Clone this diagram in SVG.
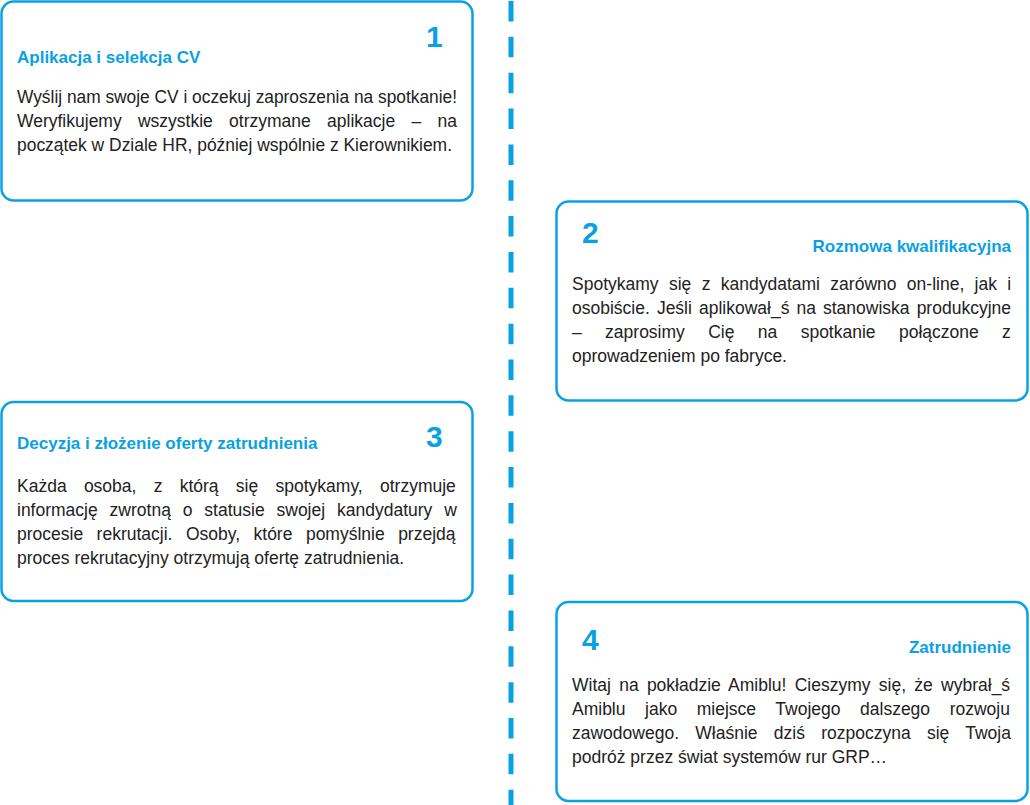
<svg xmlns="http://www.w3.org/2000/svg" width="1030" height="805" viewBox="0 0 1030 805">
<style>
.box{fill:#fff;stroke:#0aa1e2;stroke-width:2.5}
.num{font-family:"Liberation Sans",Arial,sans-serif;font-weight:bold;font-size:30px;fill:#0aa1e2}
.title{font-family:"Liberation Sans",Arial,sans-serif;font-weight:bold;font-size:17px;fill:#0aa1e2}
.body{font-family:"Liberation Sans",Arial,sans-serif;font-size:17.5px;fill:#222}
.end{text-anchor:end}
</style>
<rect width="1030" height="805" fill="#fff"/>
<g id="connectors">
<line x1="511" y1="1" x2="511" y2="805" stroke="#0aa1e2" stroke-width="5" stroke-dasharray="20.5 15.35"/>
</g>
<g id="step1">
<rect class="box" x="1.5" y="1.5" width="471" height="199" rx="12"/>
<text class="num" x="426" y="47">1</text>
<text class="title" x="17" y="63">Aplikacja i selekcja CV</text>
<text class="body" x="17" y="103" textLength="440" lengthAdjust="spacingAndGlyphs">Wyślij nam swoje CV i oczekuj zaproszenia na spotkanie!</text>
<text class="body" x="17" y="127" word-spacing="11.4">Weryfikujemy wszystkie otrzymane aplikacje – na</text>
<text class="body" x="17" y="151" textLength="435" lengthAdjust="spacingAndGlyphs">początek w Dziale HR, później wspólnie z Kierownikiem.</text>
</g>
<g id="step2">
<rect class="box" x="556.5" y="201.5" width="471" height="199" rx="12"/>
<text class="num" x="582" y="243">2</text>
<text class="title end" x="1011" y="252">Rozmowa kwalifikacyjna</text>
<text class="body" x="572" y="290" word-spacing="5.5">Spotykamy się z kandydatami zarówno on-line, jak i</text>
<text class="body" x="572" y="314" word-spacing="2.2">osobiście. Jeśli aplikował_ś na stanowiska produkcyjne</text>
<text class="body" x="572" y="338" word-spacing="18.5">– zaprosimy Cię na spotkanie połączone z</text>
<text class="body" x="572" y="362">oprowadzeniem po fabryce.</text>
</g>
<g id="step3">
<rect class="box" x="1.5" y="402" width="471" height="199" rx="12"/>
<text class="num" x="426" y="447">3</text>
<text class="title" x="17" y="449">Decyzja i złożenie oferty zatrudnienia</text>
<text class="body" x="17" y="492" word-spacing="12.4">Każda osoba, z którą się spotykamy, otrzymuje</text>
<text class="body" x="17" y="516" word-spacing="7">informację zwrotną o statusie swojej kandydatury w</text>
<text class="body" x="17" y="540" word-spacing="8.6">procesie rekrutacji. Osoby, które pomyślnie przejdą</text>
<text class="body" x="17" y="564">proces rekrutacyjny otrzymują ofertę zatrudnienia.</text>
</g>
<g id="step4">
<rect class="box" x="556.5" y="602" width="471" height="199" rx="12"/>
<text class="num" x="582" y="650">4</text>
<text class="title end" x="1011" y="653">Zatrudnienie</text>
<text class="body" x="572" y="691" word-spacing="3.4">Witaj na pokładzie Amiblu! Cieszymy się, że wybrał_ś</text>
<text class="body" x="572" y="715" word-spacing="14.7">Amiblu jako miejsce Twojego dalszego rozwoju</text>
<text class="body" x="572" y="739" word-spacing="11.4">zawodowego. Właśnie dziś rozpoczyna się Twoja</text>
<text class="body" x="572" y="763">podróż przez świat systemów rur GRP…</text>
</g>
</svg>
